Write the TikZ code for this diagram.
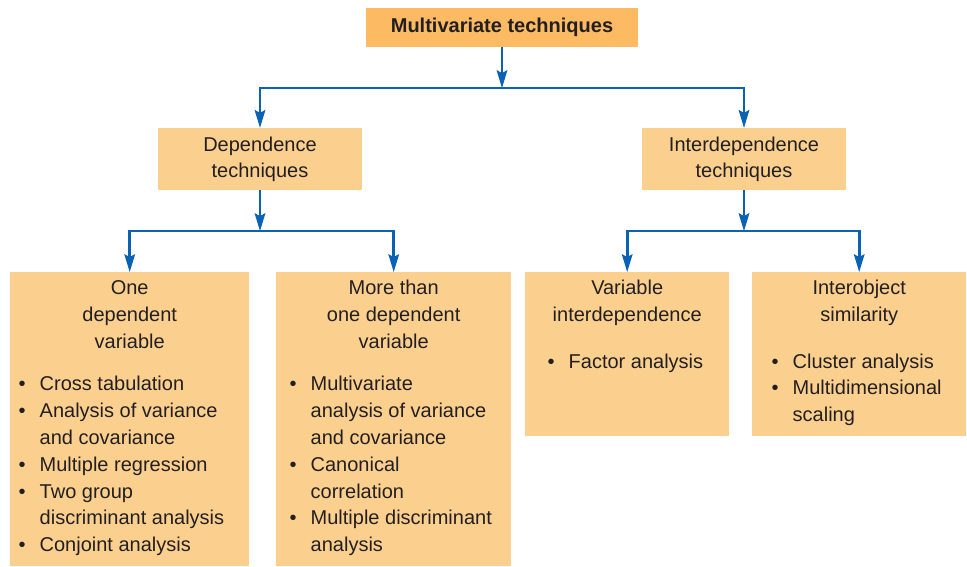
\documentclass[tikz,border=0pt]{standalone}
\usepackage{fontspec}
\setmainfont{Liberation Sans}
\usetikzlibrary{arrows.meta}
\definecolor{TopOrange}{HTML}{FCBB63}
\definecolor{SoftOrange}{HTML}{FBD08F}
\definecolor{LinkBlue}{HTML}{0A62B4}
\definecolor{InkGray}{HTML}{231F20}
\tikzset{
  topbox/.style={fill=TopOrange, text=InkGray, inner sep=0pt, minimum width=272pt, minimum height=39pt, font=\fontsize{20}{26.8}\selectfont\bfseries},
  midbox/.style={fill=SoftOrange, text=InkGray, inner sep=0pt, minimum width=204pt, minimum height=62pt, align=center, font=\fontsize{20}{26}\selectfont},
  leafbox/.style={fill=SoftOrange, text=InkGray, inner sep=0pt, anchor=north west, font=\fontsize{20}{26.8}\selectfont},
  arrow/.style={-{Stealth[length=18pt, width=11pt, inset=3pt, line width=0pt]}, line width=2.6pt, draw=LinkBlue}
}
\newlength{\bulwd}\setlength{\bulwd}{21pt}
\newcommand{\itm}[1]{\par\noindent\hangindent=\bulwd\hangafter=1\makebox[\bulwd][l]{\textbullet}#1}
% width, height, title, gap, indent, items
\newcommand{\leafcontent}[6]{\parbox[c][#2][t]{#1}{\vspace*{3.5pt}{\centering\strut#3\par}\vspace{#4}\raggedright\leftskip=#5\relax#6\par}}

\begin{document}
\begin{tikzpicture}[x=1pt, y=-1pt]
\useasboundingbox (0,0) rectangle (967,566);
\node[topbox] (top) at (502,27.5) {Multivariate techniques};
\node[midbox] (dep) at (260,159) {Dependence\\techniques};
\node[midbox] (inter) at (744,159) {Interdependence\\techniques};

\node[leafbox] (one) at (10,272) {\leafcontent{239pt}{294pt}{One\\dependent\\variable}{16pt}{8.5pt}{%
  \itm{Cross tabulation}\itm{Analysis of variance\newline and covariance}\itm{Multiple regression}%
  \itm{Two group\newline discriminant analysis}\itm{Conjoint analysis}}};
\node[leafbox] (more) at (276,272) {\leafcontent{235pt}{294pt}{More than\\one dependent\\variable}{16pt}{13.5pt}{%
  \itm{Multivariate\newline analysis of variance\newline and covariance}\itm{Canonical\newline correlation}%
  \itm{Multiple discriminant\newline analysis}}};
\node[leafbox] (var) at (525,272) {\leafcontent{204pt}{164pt}{Variable\\interdependence}{20pt}{22.5pt}{%
  \itm{Factor analysis}}};
\node[leafbox] (sim) at (752,272) {\leafcontent{214pt}{164pt}{Interobject\\similarity}{20pt}{19.5pt}{%
  \itm{Cluster analysis}\itm{Multidimensional\newline scaling}}};

\coordinate (topbar) at (502,88);
\coordinate (depbar) at (260,231);
\coordinate (interbar) at (744,231);
\draw[arrow] (top) -- (topbar);
\draw[arrow] (topbar) -| (dep);
\draw[arrow] (topbar) -| (inter);
\draw[arrow] (dep) -- (depbar);
\draw[arrow] (depbar) -| (one);
\draw[arrow] (depbar) -| (more);
\draw[arrow] (inter) -- (interbar);
\draw[arrow] (interbar) -| (var);
\draw[arrow] (interbar) -| (sim);
\end{tikzpicture}
\end{document}
